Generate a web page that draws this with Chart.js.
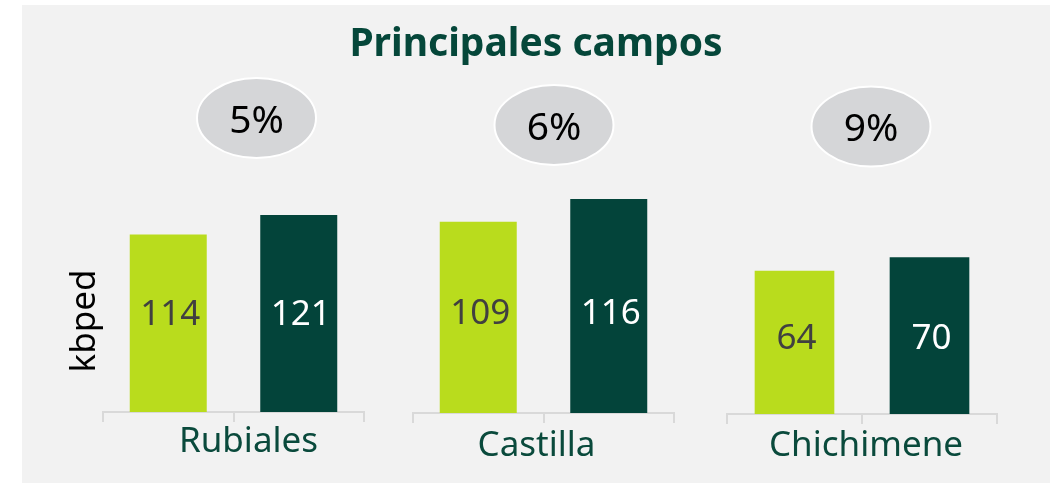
<!DOCTYPE html>
<html>
<head>
<meta charset="utf-8">
<script src="https://cdn.jsdelivr.net/npm/chart.js@4.4.1/dist/chart.umd.min.js"></script>
<style>
html,body{margin:0;padding:0;background:#ffffff;width:1050px;height:483px;overflow:hidden}
#panel{position:absolute;left:22px;top:5px;width:1028px;height:478px;background:#f2f2f2}
.cv{position:absolute;left:0;top:0;width:1050px;height:483px}
</style>
</head>
<body>
<div id="panel"></div>
<canvas id="c0" class="cv" width="1050" height="483"></canvas>
<canvas id="c1" class="cv" width="1050" height="483"></canvas>
<canvas id="c2" class="cv" width="1050" height="483"></canvas>
<script>
// ---- data ----
const chartTitle = 'Principales campos';
const fields = ['Rubiales', 'Castilla', 'Chichimene'];
const periods = ['Anterior', 'Actual'];
const prevValues = [114, 109, 64];
const currValues = [121, 116, 70];
const growthLabels = ['5%', '6%', '9%'];
const yAxisLabel = 'kbped';
const yMins = [50, 50, 0];
const yMaxs = [130, 120, 100];

// ---- layout / style ----
const FONT = '"Noto Sans", "Open Sans", sans-serif';
const LIGHT = '#b9dc1d';
const DARK = '#03443a';
const pads = [
  {left: 103, right: 686, top: 190, bottom: 61},
  {left: 413, right: 376, top: 186, bottom: 60},
  {left: 727, right: 53,  top: 190, bottom: 59}
];
const catDx = [15, -7, 4];
const catDy = [40, 43, 42];
const ellDx = [23, 10.5, 9];
const ellY = [118, 125, 126.5];
const valueUp = [100, 102, 77.5]; // label centre height above the axis line

const annot = {
  id: 'annot',
  afterDatasetsDraw(chart, args, o) {
    const {ctx, chartArea: a} = chart;
    const mid = (a.left + a.right) / 2;
    ctx.save();
    // values inside bars
    const meta = chart.getDatasetMeta(0);
    ctx.font = '35px ' + FONT;
    ctx.textAlign = 'center';
    ctx.textBaseline = 'alphabetic';
    meta.data.forEach((bar, i) => {
      const v = chart.data.datasets[0].data[i];
      ctx.fillStyle = i === 0 ? '#404040' : '#ffffff';
      ctx.fillText(String(v), bar.x + 2, a.bottom - o.valueUp + 12.5);
    });
    // field label
    ctx.font = '35px ' + FONT;
    ctx.fillStyle = '#0a4a3c';
    ctx.fillText(o.field, mid + o.catDx, a.bottom + o.catDy);
    // growth ellipse
    ctx.beginPath();
    ctx.ellipse(mid + o.ellDx, o.ellY, 59.5, 40, 0, 0, Math.PI * 2);
    ctx.fillStyle = '#d5d6d8';
    ctx.fill();
    ctx.lineWidth = 2;
    ctx.strokeStyle = '#ffffff';
    ctx.stroke();
    ctx.font = '39px ' + FONT;
    ctx.fillStyle = '#000000';
    ctx.fillText(o.growth, mid + o.ellDx, o.ellY + 14.5);
    if (o.first) {
      // y-axis label
      ctx.save();
      ctx.translate(95, 321);
      ctx.rotate(-Math.PI / 2);
      ctx.font = '35px ' + FONT;
      ctx.fillStyle = '#000000';
      ctx.fillText(yAxisLabel, 0, 0);
      ctx.restore();
      // main title
      ctx.font = 'bold 39px ' + FONT;
      ctx.fillStyle = '#05473a';
      ctx.fillText(chartTitle, 536, 56);
    }
    ctx.restore();
  }
};

fields.forEach((f, k) => {
  new Chart(document.getElementById('c' + k), {
    type: 'bar',
    data: {
      labels: periods,
      datasets: [{
        data: [prevValues[k], currValues[k]],
        backgroundColor: [LIGHT, DARK],
        borderWidth: 0,
        barPercentage: 0.59,
        categoryPercentage: 1
      }]
    },
    options: {
      responsive: false,
      animation: false,
      devicePixelRatio: 1,
      events: [],
      layout: {padding: pads[k]},
      plugins: {
        legend: {display: false},
        tooltip: {enabled: false},
        title: {display: false},
        annot: {field: f, growth: growthLabels[k], catDx: catDx[k], catDy: catDy[k], ellDx: ellDx[k], ellY: ellY[k], valueUp: valueUp[k], first: k === 0}
      },
      scales: {
        x: {
          display: true,
          ticks: {display: false},
          grid: {drawOnChartArea: false, drawTicks: true, tickLength: 10, color: '#d9d9d9', lineWidth: 2},
          border: {display: true, color: '#d9d9d9', width: 2},
          title: {display: false}
        },
        y: {
          display: false,
          min: yMins[k],
          max: yMaxs[k]
        }
      }
    },
    plugins: [annot]
  });
});
</script>
</body>
</html>
